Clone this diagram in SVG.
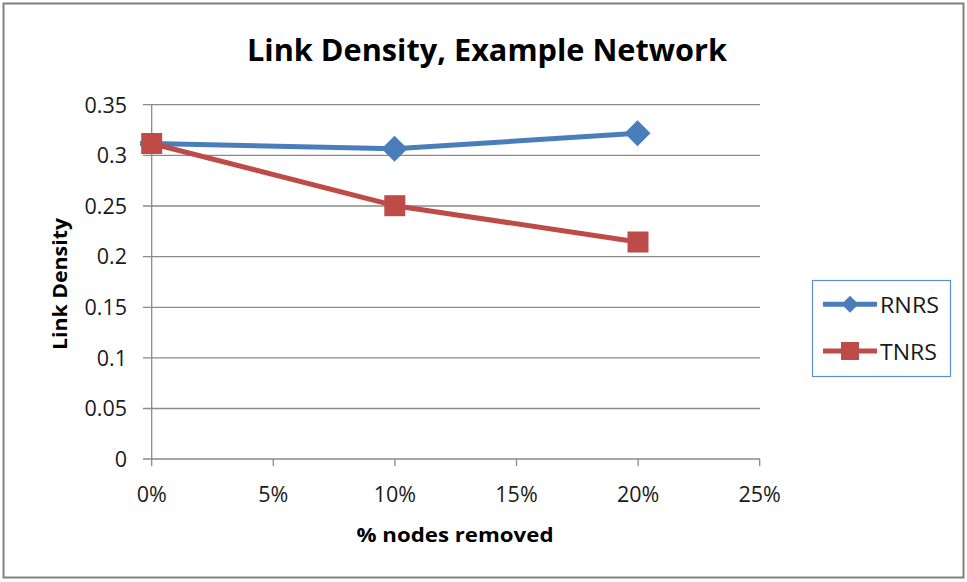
<svg xmlns="http://www.w3.org/2000/svg" width="967" height="582" viewBox="0 0 967 582">
<style>
.t{font-family:"Open Sans","Liberation Sans",sans-serif;fill:#1a1a1a}
.tick{font-size:21.5px}
.b{font-weight:bold;fill:#000}
.grid{stroke:#8a8a8a;stroke-width:1.3;fill:none}
.rn{stroke:#4a7ebb;stroke-width:5;fill:none;stroke-linejoin:round}
.tn{stroke:#be4b48;stroke-width:5;fill:none;stroke-linejoin:round}
.dm{fill:#4a7ebb}
.sq{fill:#be4b48}
</style>
<defs>
<path id="dia" d="M0,-13 L13,0 L0,13 L-13,0 Z"/>
<rect id="sqr" x="-10.5" y="-10.5" width="21" height="21"/>
<path id="diaS" d="M0,-8.5 L8.5,0 L0,8.5 L-8.5,0 Z"/>
<rect id="sqrS" x="-9" y="-9" width="18" height="18"/>
</defs>
<rect x="0" y="0" width="967" height="582" fill="#fff"/>
<rect x="3.5" y="3.5" width="960" height="574" fill="#fff" stroke="#808080" stroke-width="2"/>
<text class="t b" x="487" y="61" font-size="30" text-anchor="middle" textLength="480" lengthAdjust="spacingAndGlyphs">Link Density, Example Network</text>
<g id="grid">
<path class="grid" d="M143,104.7H760M143,155.3H760M143,206H760M143,256.6H760M143,307.3H760M143,357.9H760M143,408.5H760M143,459H760"/>
<path class="grid" d="M151.7,104.7V466M273.3,459V466M394.9,459V466M516.5,459V466M638.1,459V466M759.7,459V466"/>
</g>
<g id="yticks" class="t tick" text-anchor="end">
<text x="127" y="112.5">0.35</text>
<text x="127" y="163">0.3</text>
<text x="127" y="213.5">0.25</text>
<text x="127" y="264">0.2</text>
<text x="127" y="315">0.15</text>
<text x="127" y="365.5">0.1</text>
<text x="127" y="416">0.05</text>
<text x="127" y="466.5">0</text>
</g>
<g id="xticks" class="t tick" text-anchor="middle">
<text x="151.7" y="501.5">0%</text>
<text x="273.3" y="501.5">5%</text>
<text x="394.9" y="501.5">10%</text>
<text x="516.5" y="501.5">15%</text>
<text x="638.1" y="501.5">20%</text>
<text x="759.7" y="501.5">25%</text>
</g>
<text class="t b" x="455" y="542" font-size="20" text-anchor="middle" textLength="197" lengthAdjust="spacingAndGlyphs">% nodes removed</text>
<text class="t b" transform="translate(67,284) rotate(-90)" font-size="20" text-anchor="middle" textLength="132" lengthAdjust="spacingAndGlyphs">Link Density</text>
<g id="connectors">
<polyline class="rn" points="140,143.5 151.7,143.5 394.5,148.7 637.5,133.3"/>
<polyline class="tn" points="151.7,143.5 394.8,205.7 638,242"/>
</g>
<g id="rnrs">
<use href="#dia" class="dm" x="394.5" y="148.7"/>
<use href="#dia" class="dm" x="637.5" y="133.3"/>
</g>
<g id="tnrs">
<use href="#sqr" class="sq" x="151.7" y="143.5"/>
<use href="#sqr" class="sq" x="394.8" y="205.7"/>
<use href="#sqr" class="sq" x="638" y="242"/>
</g>
<g id="legend">
<rect x="812.5" y="280.5" width="138" height="96" fill="#fff" stroke="#5b8fd0" stroke-width="1.2"/>
<line class="rn" x1="823" y1="304.3" x2="877" y2="304.3" stroke-width="4.5"/>
<use href="#diaS" class="dm" x="850" y="304.3"/>
<line class="tn" x1="823" y1="351" x2="877" y2="351" stroke-width="4.5"/>
<use href="#sqrS" class="sq" x="850" y="351"/>
<text class="t" x="880" y="313" font-size="21" textLength="59" lengthAdjust="spacingAndGlyphs">RNRS</text>
<text class="t" x="880" y="360" font-size="21" textLength="57" lengthAdjust="spacingAndGlyphs">TNRS</text>
</g>
</svg>
